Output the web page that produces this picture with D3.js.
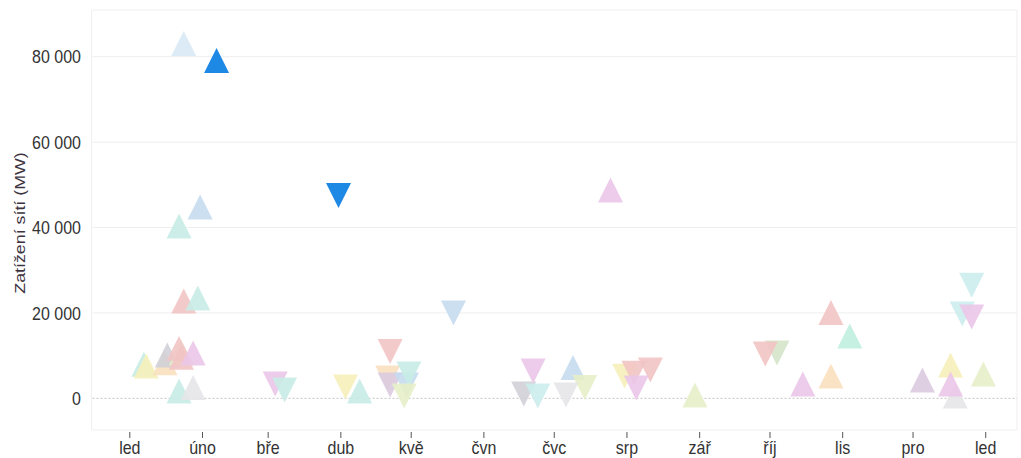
<!DOCTYPE html>
<html>
<head>
<meta charset="utf-8">
<script src="https://cdn.jsdelivr.net/npm/d3@7"></script>
<style>
    body { margin: 0; background: #fff; }
    #chart { width: 1021px; height: 458px; }
    text { font-family: "Liberation Sans", Arial, sans-serif; }
</style>
</head>
<body>
<div id="chart"></div>
<script>

// ---- data ----
const dates = [
    // led / úno
    "2023-01-07", "2023-01-08", "2023-01-16", "2023-01-17", "2023-01-23", "2023-01-23", "2023-01-22", "2023-01-28",
    "2023-01-22", "2023-01-28", "2023-01-24", "2023-01-30", "2023-01-22", "2023-01-31", "2023-01-24", "2023-02-07",
    // bře / dub / kvě
    "2023-03-04", "2023-03-08", "2023-03-31", "2023-04-03", "2023-04-09", "2023-04-22", "2023-04-21", "2023-04-22",
    "2023-04-29", "2023-04-30", "2023-04-28", "2023-05-19",
    // čvn / čvc
    "2023-06-18", "2023-06-22", "2023-06-24", "2023-07-09", "2023-07-14", "2023-07-06",
    // srp / zář
    "2023-07-25", "2023-07-31", "2023-08-04", "2023-08-11", "2023-08-05", "2023-08-30",
    // říj / lis
    "2023-10-04", "2023-09-29", "2023-10-15", "2023-10-27", "2023-10-27", "2023-11-04",
    // pro
    "2023-12-05", "2023-12-17", "2023-12-19", "2023-12-17", "2023-12-31", "2023-12-22", "2023-12-26", "2023-12-26"
];

const values = [
    8000, 7560, 8300, 10140, 10600, 9600, 11700, 10600,
    1710, 2530, 22800, 23500, 40350, 44800, 83100, 79100,
    3350, 1950, 47500, 2650, 1710, 10960, 4750, 3100,
    3100, 5700, 540, 19980,
    1000, 6390, 540, 7200, 2530, 770,
    48800, 5200, 5900, 6630, 2400, 770,
    10600, 10370, 3350, 5200, 20100, 14600,
    4290, 7800, 540, 3350, 5690, 19740, 19040, 26500
];

// up = growth, down = drop
const directions = [
    "up", "up", "up", "up", "up", "up", "up", "up",
    "up", "up", "up", "up", "up", "up", "up", "up",
    "down", "down", "down", "down", "up", "down", "down", "down",
    "down", "down", "down", "down",
    "down", "down", "down", "up", "down", "down",
    "up", "down", "down", "down", "down", "up",
    "down", "down", "up", "up", "up", "up",
    "up", "up", "up", "up", "up", "down", "down", "down"
];

const groups = [
    "teal", "yellow", "orange", "grey", "lightgreen", "red", "red", "purple",
    "teal", "lightgrey", "red", "teal", "teal", "lightblue", "paleblue", "blue",
    "purple", "teal", "blue", "yellow", "teal", "red", "orange", "greypurple",
    "lightblue", "teal", "lightgreen", "lightblue",
    "grey", "purple", "cyan", "lightblue", "lightgreen", "lightgrey",
    "purple", "yellow", "red", "red", "purple", "lightgreen",
    "sage", "red", "purple", "orange", "red", "mint",
    "greypurple", "yellow", "lightgrey", "purple", "lightgreen", "cyan", "purple", "cyan"
];

const monthLabels = ["led", "úno", "bře", "dub", "kvě", "čvn", "čvc", "srp", "zář", "říj", "lis", "pro"];
const yTicks = [0, 20000, 40000, 60000, 80000];
const yTitle = "Zatížení sítí (MW)";

const palette = {
    blue: "#1e88e5",
    paleblue: "#d8e9f4",
    lightblue: "#c5dcef",
    teal: "#c8ece6",
    cyan: "#cbedec",
    mint: "#bfeedf",
    red: "#f2c4c4",
    yellow: "#f6efba",
    orange: "#f9dfbf",
    grey: "#d0d0d7",
    lightgrey: "#e6e6e8",
    purple: "#ebc5e8",
    greypurple: "#dacbdf",
    lightgreen: "#e5eec8",
    sage: "#d4e4c9"
};


class TriangleVis {

    constructor(parentElement) {
        this.parentElement = parentElement;
        this.initVis();
    }

    initVis() {
        let vis = this;

        // the picture is a bit taller than wide, so stretch the drawing vertically
        vis.stretch = 1.15;
        vis.W = 1021;
        vis.H = 458;
        vis.VH = vis.H / vis.stretch;

        vis.left = 91.5;
        vis.right = 1017;
        vis.top = 10 / vis.stretch;
        vis.bottom = 430 / vis.stretch;

        vis.svg = d3.select("#" + vis.parentElement).append("svg")
            .attr("width", vis.W)
            .attr("height", vis.H)
            .attr("viewBox", `0 0 ${vis.W} ${vis.VH}`)
            .attr("preserveAspectRatio", "none")
            .style("display", "block");

        const parse = d3.timeParse("%Y-%m-%d");
        vis.data = dates.map((d, i) => ({
            date: parse(d),
            value: values[i],
            dir: directions[i],
            group: groups[i]
        }));

        vis.x = d3.scaleTime()
            .domain([new Date(2022, 11, 15, 16), new Date(2024, 0, 14, 8)])
            .range([vis.left, vis.right]);

        vis.y = d3.scaleLinear()
            .domain([-7420, 90940])
            .range([vis.bottom, vis.top]);

        vis.updateVis();
    }

    updateVis() {
        let vis = this;

        const locale = d3.formatLocale({decimal: ",", thousands: "\u00a0", grouping: [3], currency: ["", " Kč"]});
        const fmt = locale.format(",d");

        // plot frame
        vis.svg.append("rect")
            .attr("x", vis.left)
            .attr("y", vis.top)
            .attr("width", vis.right - vis.left)
            .attr("height", vis.bottom - vis.top)
            .attr("fill", "none")
            .attr("stroke", "#efefef")
            .attr("vector-effect", "non-scaling-stroke");

        // grid + y labels
        const grid = vis.svg.append("g");
        grid.selectAll("line")
            .data(yTicks)
            .enter().append("line")
            .attr("x1", vis.left + 1)
            .attr("x2", vis.right)
            .attr("y1", d => vis.y(d))
            .attr("y2", d => vis.y(d))
            .attr("stroke", d => d === 0 ? "#c4c4c4" : "#eeeeee")
            .attr("stroke-dasharray", d => d === 0 ? "2,2" : null)
            .attr("vector-effect", "non-scaling-stroke");

        grid.selectAll("text")
            .data(yTicks)
            .enter().append("text")
            .attr("x", 81)
            .attr("y", d => vis.y(d))
            .attr("dy", "0.36em")
            .attr("text-anchor", "end")
            .attr("fill", "#333")
            .style("font-size", "16px")
            .text(d => fmt(d));

        vis.svg.append("text")
            .attr("transform", `translate(25,${223 / vis.stretch}) rotate(-90)`)
            .attr("text-anchor", "middle")
            .attr("fill", "#3d3340")
            .style("font-size", "15.5px")
            .text(yTitle);

        // x axis: month ticks
        const months = d3.timeMonth.range(new Date(2023, 0, 1), new Date(2024, 0, 2));
        const xAxis = vis.svg.append("g");
        xAxis.selectAll("line")
            .data(months)
            .enter().append("line")
            .attr("x1", d => vis.x(d))
            .attr("x2", d => vis.x(d))
            .attr("y1", 432 / vis.stretch)
            .attr("y2", 438 / vis.stretch)
            .attr("stroke", "#555")
            .attr("vector-effect", "non-scaling-stroke");

        xAxis.selectAll("text")
            .data(months)
            .enter().append("text")
            .attr("x", d => vis.x(d))
            .attr("y", 454 / vis.stretch)
            .attr("text-anchor", "middle")
            .attr("fill", "#333")
            .style("font-size", "16px")
            .text(d => monthLabels[d.getMonth()]);

        // triangles
        const w = 25, h = 21.7;
        const up = `M0,${-h / 2}L${w / 2},${h / 2}L${-w / 2},${h / 2}Z`;
        const down = `M${-w / 2},${-h / 2}L${w / 2},${-h / 2}L0,${h / 2}Z`;

        vis.svg.append("g")
            .selectAll("path")
            .data(vis.data)
            .enter().append("path")
            .attr("d", d => d.dir === "up" ? up : down)
            .attr("transform", d => `translate(${vis.x(d.date)},${vis.y(d.value)})`)
            .attr("fill", d => palette[d.group])
            .attr("fill-opacity", d => d.group === "blue" ? 1 : 0.9);
    }
}

new TriangleVis("chart");

</script>
</body>
</html>
